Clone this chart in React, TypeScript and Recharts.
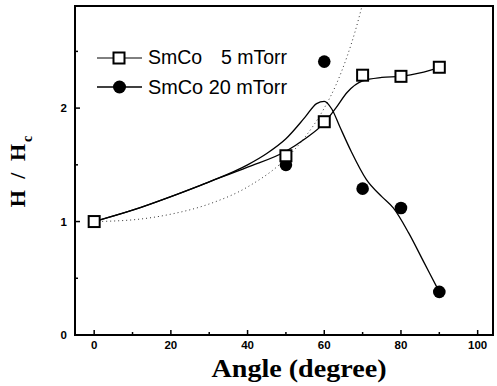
import React from 'react';
import { ComposedChart, Line, XAxis, YAxis, ReferenceArea } from 'recharts';

// measured points
const sqAngles = [0, 50, 60, 70, 80, 90];
const sq5mTorr = [1.0, 1.58, 1.88, 2.29, 2.28, 2.36];
const dotAngles = [50, 60, 70, 80, 90];
const dot20mTorr = [1.5, 2.41, 1.29, 1.12, 0.38];

// fitted curves
const fit5Angles = [0, 10, 20, 30, 40, 50, 55, 60, 63, 66, 70, 75, 80, 85, 90];
const fit5Values = [1.0, 1.1, 1.22, 1.35, 1.48, 1.62, 1.73, 1.87, 2.0, 2.14, 2.24, 2.27, 2.28, 2.31, 2.36];
const fit20Angles = [0, 10, 20, 30, 40, 45, 50, 55, 58, 60, 62, 64, 67, 71, 75, 78, 82, 86, 90];
const fit20Values = [1.0, 1.1, 1.22, 1.35, 1.5, 1.6, 1.73, 1.92, 2.04, 2.06, 1.99, 1.84, 1.62, 1.37, 1.22, 1.12, 0.9, 0.64, 0.38];

// dotted reference curve
const theoryAngles = [0, 10, 20, 30, 40, 50, 55, 60, 63, 66, 68, 70];
const theoryValues = [1.0, 1.015, 1.065, 1.155, 1.305, 1.555, 1.745, 2.0, 2.2, 2.46, 2.67, 2.92];

const xTicks = [0, 10, 20, 30, 40, 50, 60, 70, 80, 90, 100];
const yTicks = [0, 0.5, 1, 1.5, 2, 2.5];

const zip = (xs: number[], ys: number[]) => xs.map((x, i) => ({ x, y: ys[i] }));

const sqData = zip(sqAngles, sq5mTorr);
const dotData = zip(dotAngles, dot20mTorr);
const fit5 = zip(fit5Angles, fit5Values);
const fit20 = zip(fit20Angles, fit20Values);
const theory = zip(theoryAngles, theoryValues);

const tickFont = '"Liberation Sans", Arial, sans-serif';
const titleFont = '"Liberation Serif", "Times New Roman", serif';

const XTick = (props: any) => {
  const { x, y, payload } = props;
  const major = payload.value % 20 === 0;
  return (
    <g>
      <line x1={x} x2={x} y1={y} y2={y - (major ? 5 : 3)} stroke="#000" strokeWidth={1.5} />
      {major && (
        <text x={x} y={y + 14} textAnchor="middle" fontFamily={tickFont} fontWeight="bold" fontSize={11.5} fill="#000">
          {payload.value}
        </text>
      )}
    </g>
  );
};

const YTick = (props: any) => {
  const { x, y, payload } = props;
  const major = Number.isInteger(payload.value);
  return (
    <g>
      <line x1={x} x2={x + (major ? 5 : 3)} y1={y} y2={y} stroke="#000" strokeWidth={1.5} />
      {major && (
        <text x={x - 8} y={y + 4} textAnchor="end" fontFamily={tickFont} fontWeight="bold" fontSize={11.5} fill="#000">
          {payload.value}
        </text>
      )}
    </g>
  );
};

const XTitle = () => (
  <text x={299} y={377} textAnchor="middle" fontFamily={titleFont} fontWeight="bold" fontSize={25}
    textLength={175} lengthAdjust="spacingAndGlyphs" fill="#000">
    Angle (degree)
  </text>
);

const YTitle = () => (
  <text transform="translate(25,170) rotate(-90)" textAnchor="middle" fontFamily={titleFont} fontWeight="bold"
    fontSize={22} letterSpacing={3} fill="#000">
    H / H
    <tspan fontSize={14} dy={7} dx={-1}>c</tspan>
  </text>
);

const Square = (props: any) => {
  const { cx, cy, index } = props;
  return <rect key={`sq-${index}`} x={cx - 5.5} y={cy - 5.5} width={11} height={11} fill="#fff" stroke="#000" strokeWidth={2} />;
};

const Dot = (props: any) => {
  const { cx, cy, index } = props;
  return <circle key={`dot-${index}`} cx={cx} cy={cy} r={6.3} fill="#000" />;
};

const LegendOverlay = () => (
  <svg width={497} height={386} style={{ position: 'absolute', left: 0, top: 0, pointerEvents: 'none' }}>
    <line x1={97} x2={113} y1={58} y2={58} stroke="#000" strokeWidth={1} />
    <line x1={125} x2={142} y1={58} y2={58} stroke="#000" strokeWidth={1} />
    <rect x={113.5} y={52.5} width={11} height={11} fill="#fff" stroke="#000" strokeWidth={2} />
    <line x1={97} x2={142} y1={87} y2={87} stroke="#000" strokeWidth={1.5} />
    <circle cx={119.5} cy={87} r={6.5} fill="#000" />
    <g fontFamily={tickFont} fontSize={19.5} fill="#000">
      <text x={148} y={64}>SmCo</text>
      <text x={287} y={64} textAnchor="end">5 mTorr</text>
      <text x={148} y={94} textLength={139} lengthAdjust="spacingAndGlyphs">SmCo 20 mTorr</text>
    </g>
  </svg>
);

export default function App() {
  return (
    <div style={{ position: 'absolute', left: 0, top: 0, width: 497, height: 386, background: '#fff' }}>
      <ComposedChart width={497} height={386} margin={{ top: 6, right: 4, bottom: 0, left: 0 }}>
        <XAxis type="number" dataKey="x" domain={[-5, 104]} ticks={xTicks} interval={0} allowDataOverflow
          tick={<XTick />} tickLine={false} tickSize={0} tickMargin={0} height={51}
          axisLine={{ stroke: '#000', strokeWidth: 2 }} label={<XTitle />} />
        <YAxis type="number" domain={[0, 2.9]} ticks={yTicks} interval={0} allowDataOverflow
          tick={<YTick />} tickLine={false} tickSize={0} tickMargin={0} width={75}
          axisLine={{ stroke: '#000', strokeWidth: 2 }} label={<YTitle />} />
        <ReferenceArea x1={-5} x2={104} y1={0} y2={2.9} fill="none" stroke="#000" strokeWidth={2} ifOverflow="visible" />
        <Line data={theory} dataKey="y" type="monotone" stroke="#333" strokeWidth={1} strokeDasharray="1 3"
          dot={false} activeDot={false} isAnimationActive={false} legendType="none" />
        <Line data={fit5} dataKey="y" type="monotone" stroke="#000" strokeWidth={1.3}
          dot={false} activeDot={false} isAnimationActive={false} legendType="none" />
        <Line data={fit20} dataKey="y" type="monotone" stroke="#000" strokeWidth={1.3}
          dot={false} activeDot={false} isAnimationActive={false} legendType="none" />
        <Line data={dotData} dataKey="y" stroke="none" dot={Dot} activeDot={false}
          isAnimationActive={false} legendType="none" />
        <Line data={sqData} dataKey="y" stroke="none" dot={Square} activeDot={false}
          isAnimationActive={false} legendType="none" />
      </ComposedChart>
      <LegendOverlay />
    </div>
  );
}
